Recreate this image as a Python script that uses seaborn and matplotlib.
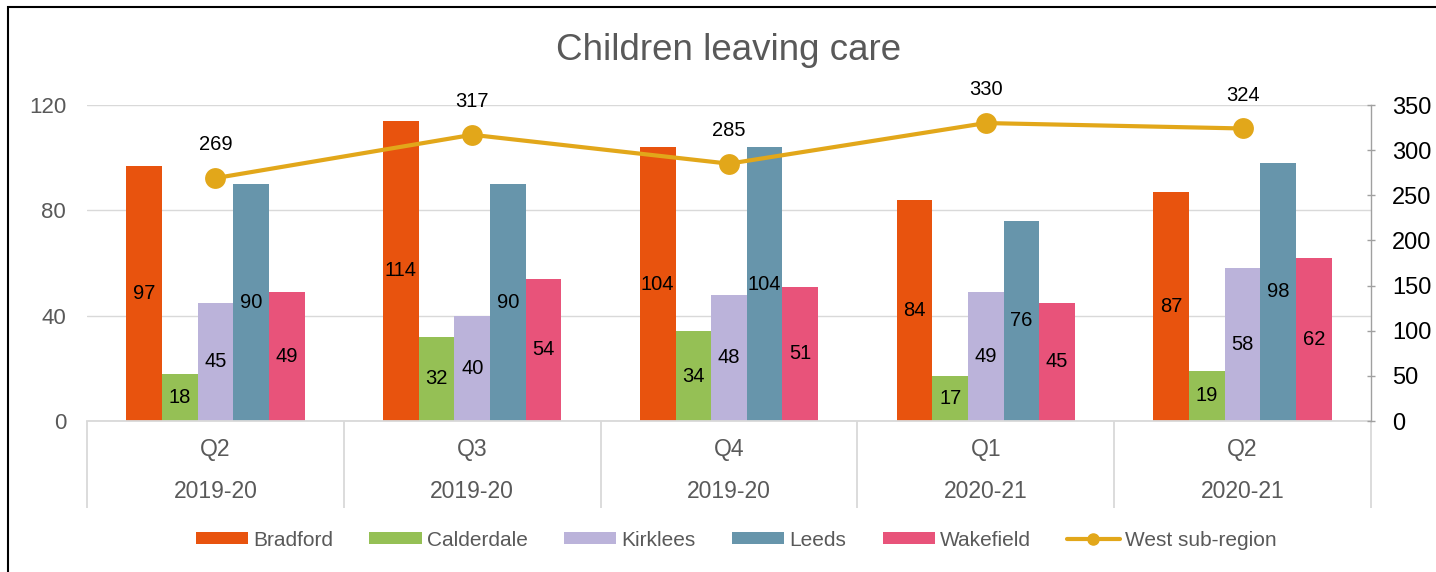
import numpy as np
import pandas as pd
import matplotlib
matplotlib.use("Agg")
import matplotlib.pyplot as plt
from matplotlib.patches import Patch, Rectangle
from matplotlib.lines import Line2D
import seaborn as sns

# ---- data ----
quarters = ["Q2", "Q3", "Q4", "Q1", "Q2"]
years = ["2019-20", "2019-20", "2019-20", "2020-21", "2020-21"]
bradford = [97, 114, 104, 84, 87]
calderdale = [18, 32, 34, 17, 19]
kirklees = [45, 40, 48, 49, 58]
leeds = [90, 90, 104, 76, 98]
wakefield = [49, 54, 51, 45, 62]
west = [269, 317, 285, 330, 324]
series_names = ["Bradford", "Calderdale", "Kirklees", "Leeds", "Wakefield"]
line_name = "West sub-region"
left_ticks = [0, 40, 80, 120]
right_ticks = [0, 50, 100, 150, 200, 250, 300, 350]

colors = ["#E8530E", "#95C055", "#BBB3DA", "#6795AB", "#E8537A"]
line_color = "#E2A71A"

cats = [f"{q}\n{y}" for q, y in zip(quarters, years)]
rows = []
for name, vals in zip(series_names, [bradford, calderdale, kirklees, leeds, wakefield]):
    for i, v in enumerate(vals):
        rows.append({"cat": i, "series": name, "value": v})
df = pd.DataFrame(rows)
df_line = pd.DataFrame({"pos": list(range(len(west))), "value": west})

sns.set_style("white")
plt.rcParams["font.family"] = ["Liberation Sans", "DejaVu Sans"]

fig = plt.figure(figsize=(14.36, 5.72), dpi=100)
ax = fig.add_axes([87 / 1436, 1 - 421 / 572, (1371 - 87) / 1436, (421 - 105) / 572])

sns.barplot(data=df, x="cat", y="value", hue="series", hue_order=series_names,
            palette=colors, saturation=1, width=0.694, gap=0, linewidth=0,
            ax=ax, legend=False, errorbar=None)

for cont in ax.containers:
    ax.bar_label(cont, label_type="center", fontsize=14.5, color="black")

ax.set_ylim(0, 120)
ax.set_yticks(left_ticks)
ax.set_xlim(-0.5, len(cats) - 0.5)
ax.set_xticks(range(len(cats)))
ax.set_xticklabels(cats, fontsize=16.5, color="#595959", linespacing=2.1)
ax.set_xticks([i - 0.5 for i in range(len(cats) + 1)], minor=True)
ax.tick_params(axis="x", which="major", bottom=False, length=0, pad=12)
ax.tick_params(axis="x", which="minor", bottom=True, length=62.5, width=1.3,
               color="#D9D9D9", direction="out")
ax.tick_params(axis="y", left=False, length=0, pad=15, labelsize=16, labelcolor="#595959")
ax.set_xlabel("")
ax.set_ylabel("")
ax.grid(axis="y", color="#D9D9D9", linewidth=1)
ax.set_axisbelow(True)
for s in ["left", "top", "right"]:
    ax.spines[s].set_visible(False)
ax.spines["bottom"].set_color("#D9D9D9")
ax.spines["bottom"].set_linewidth(1.3)

ax2 = ax.twinx()
sns.lineplot(data=df_line, x="pos", y="value", ax=ax2, color=line_color,
             linewidth=3, marker="o", markersize=15, markeredgewidth=0, legend=False)
for i, v in enumerate(west):
    ax2.annotate(str(v), (i, v), xytext=(0, 24), textcoords="offset points",
                 ha="center", va="center", fontsize=14.5, color="black")
ax2.set_ylim(0, 350)
ax2.set_yticks(right_ticks)
ax2.tick_params(axis="y", right=True, length=6, width=1, color="#A0A0A0",
                direction="inout", pad=12, labelsize=17, labelcolor="black")
ax2.set_ylabel("")
ax2.set_xlabel("")
for s in ["left", "top", "bottom"]:
    ax2.spines[s].set_visible(False)
ax2.spines["right"].set_color("#A0A0A0")
ax2.spines["right"].set_linewidth(1)
ax.set_xlim(-0.5, len(cats) - 0.5)

# title
fig.text((87 + 1371) / 2 / 1436, 1 - 50 / 572, "Children leaving care",
         ha="center", va="center", fontsize=26.5, color="#595959")

# legend
handles = [Patch(facecolor=c, edgecolor="none") for c in colors]
handles.append(Line2D([0], [0], color=line_color, linewidth=3, marker="o", markersize=8))
fig.legend(handles, series_names + [line_name], loc="center",
           bbox_to_anchor=(736 / 1436, 1 - 540 / 572), ncol=6, frameon=False,
           fontsize=15, labelcolor="#595959", handlelength=2.5, handleheight=0.5,
           handletextpad=0.25, columnspacing=1.75)

# outer border
fig.patches.append(Rectangle((8 / 1436, -0.2), 1.2, 1.2 - 7 / 572,
                             transform=fig.transFigure, fill=False,
                             edgecolor="black", linewidth=1.5, zorder=10))

fig.savefig("out.png", dpi=100)
